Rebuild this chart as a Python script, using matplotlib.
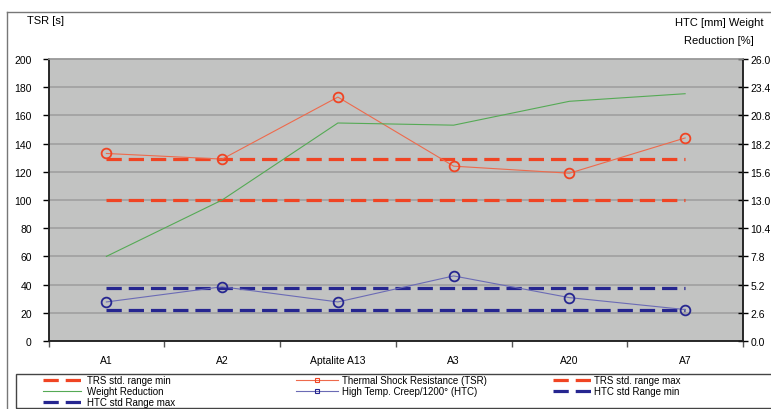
import matplotlib
matplotlib.use("Agg")
import matplotlib.pyplot as plt
from matplotlib.lines import Line2D
from matplotlib.ticker import FormatStrFormatter
import numpy as np

plt.rcParams["font.family"] = ["Liberation Sans", "DejaVu Sans"]
plt.rcParams["lines.scale_dashes"] = False

categories = ["A1", "A2", "Aptalite A13", "A3", "A20", "A7"]
tsr = [133, 129, 173, 124, 119, 144]          # Thermal Shock Resistance [s]
trs_min = [100, 100, 100, 100, 100, 100]
trs_max = [129, 129, 129, 129, 129, 129]
weight_reduction = [7.8, 13.0, 20.1, 19.9, 22.1, 22.8]   # [%]
htc = [3.6, 5.0, 3.6, 6.0, 4.0, 2.9]          # High Temp. Creep [mm]
htc_min = [2.9, 2.9, 2.9, 2.9, 2.9, 2.9]
htc_max = [4.9, 4.9, 4.9, 4.9, 4.9, 4.9]
left_ticks = [0, 20, 40, 60, 80, 100, 120, 140, 160, 180, 200]
right_ticks = [0.0, 2.6, 5.2, 7.8, 10.4, 13.0, 15.6, 18.2, 20.8, 23.4, 26.0]

RED = "#f04423"
RED_LINE = "#ee6a4c"
BLUE = "#262690"
BLUE_LINE = "#6b6bb5"
GREEN = "#55aa55"
DASH = (11, 5)

W, H = 771, 410
fig = plt.figure(figsize=(W / 100, H / 100), dpi=100)
L, R, B, T = 48.5, 743, 342, 60
ax = fig.add_axes([L / W, 1 - B / H, (R - L) / W, (B - T) / H])
ax.set_facecolor("#c2c3c2")
ax2 = ax.twinx()

x = np.arange(len(categories))

ax.set_ylim(0, 200)
ax.set_yticks(left_ticks)
ax.set_xlim(-0.5, len(categories) - 0.5)
ax.yaxis.grid(True, color="#9d9d9d", linewidth=1.1)
ax.set_axisbelow(True)

ax.plot(x, trs_min, color=RED, lw=2.3, dashes=DASH, zorder=3)
ax.plot(x, trs_max, color=RED, lw=2.3, dashes=DASH, zorder=3)
ax.plot(x, tsr, color=RED_LINE, lw=0.8, marker="o", markersize=7,
        markerfacecolor="none", markeredgecolor=RED, markeredgewidth=1.3, zorder=4)

ax2.set_ylim(0, 26)
ax2.set_yticks(right_ticks)
ax2.yaxis.set_major_formatter(FormatStrFormatter("%.1f"))
ax2.plot(x, weight_reduction, color=GREEN, lw=0.8, zorder=3)
ax2.plot(x, htc_min, color=BLUE, lw=2.3, dashes=DASH, zorder=3)
ax2.plot(x, htc_max, color=BLUE, lw=2.3, dashes=DASH, zorder=3)
ax2.plot(x, htc, color=BLUE_LINE, lw=0.8, marker="o", markersize=7,
         markerfacecolor="none", markeredgecolor=BLUE, markeredgewidth=1.3, zorder=4)

# category labels centred, ticks on category boundaries
ax.set_xticks(np.arange(-0.5, len(categories)), labels=[""] * (len(categories) + 1))
ax.set_xticks(x, labels=categories, minor=True)
ax.tick_params(axis="x", which="major", direction="out", length=4, width=1, color="#555555")
ax.tick_params(axis="x", which="minor", length=0, pad=10, labelsize=7.5)
ax.tick_params(axis="y", direction="out", length=4, width=1, labelsize=7.5, pad=8)
ax2.tick_params(axis="y", direction="inout", length=7, width=1, labelsize=7.5, pad=2)

for a in (ax, ax2):
    a.spines["top"].set_color("#9d9d9d")
    a.spines["left"].set_color("#222222")
    a.spines["bottom"].set_color("#222222")
    a.spines["right"].set_color("#222222")
    for s in a.spines.values():
        s.set_linewidth(1.1)

fig.text(27 / W, 1 - 21 / H, "TSR [s]", fontsize=8, ha="left", va="center")
fig.text(719 / W, 1 - 32.5 / H, "HTC [mm] Weight\nReduction [%]", fontsize=8,
         ha="center", va="center", linespacing=2.0)

# outer chart frame
fig.add_artist(Line2D([6.5 / W, 6.5 / W], [0, 1 - 12.5 / H], transform=fig.transFigure,
                      color="#777777", lw=1))
fig.add_artist(Line2D([6.5 / W, 1], [1 - 12.5 / H, 1 - 12.5 / H], transform=fig.transFigure,
                      color="#777777", lw=1))
# legend frame
fig.add_artist(plt.Rectangle((15.5 / W, 1 - 408.5 / H), (W) / W, 33.5 / H,
                             transform=fig.transFigure, fill=False,
                             edgecolor="#444444", lw=1))


def dashed(color):
    return Line2D([], [], color=color, lw=2.3, dashes=DASH)


def marked(line_color, edge):
    return Line2D([], [], color=line_color, lw=0.8, marker="s", markersize=3.5,
                  markerfacecolor="none", markeredgecolor=edge, markeredgewidth=0.8)


columns = [
    ([dashed(RED), Line2D([], [], color=GREEN, lw=0.8), dashed(BLUE)],
     ["TRS std. range min", "Weight Reduction", "HTC std Range max"], 43, 3.95, 0.6),
    ([marked(RED_LINE, RED), marked(BLUE_LINE, BLUE)],
     ["Thermal Shock Resistance (TSR)", "High Temp. Creep/1200° (HTC)"], 296, 4.3, 0.4),
    ([dashed(RED), dashed(BLUE)],
     ["TRS std. range max", "HTC std Range min"], 553, 3.95, 0.3),
]
for handles, labels, xpos, hlen, pad in columns:
    fig.legend(handles, labels, loc="upper left",
               bbox_to_anchor=(xpos / W, 1 - 376.5 / H), frameon=False,
               fontsize=7, handlelength=hlen, handletextpad=pad,
               labelspacing=0.08, borderpad=0, borderaxespad=0)

fig.savefig("out.png", dpi=100)
